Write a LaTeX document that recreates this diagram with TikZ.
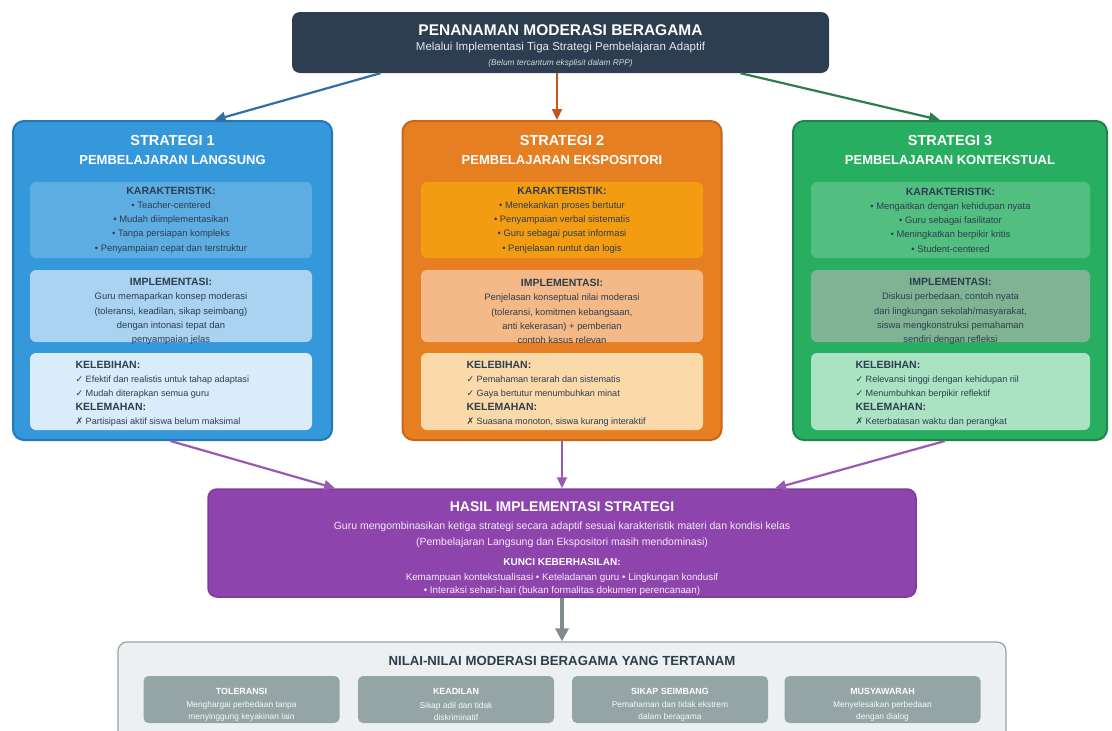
\documentclass[tikz,border=0pt]{standalone}
\usepackage{fontspec}
\setmainfont{Liberation Sans}
\newfontfamily\symfont{DejaVu Sans}
\usetikzlibrary{arrows.meta, positioning, calc}

\definecolor{navy}{HTML}{2C3E50}
\definecolor{blueA}{HTML}{3498DB}
\definecolor{blueB}{HTML}{2478B5}
\definecolor{blueK}{HTML}{5DADE2}
\definecolor{blueI}{HTML}{A9D3F0}
\definecolor{blueL}{HTML}{D9ECF9}
\definecolor{blueArr}{HTML}{346EA6}
\definecolor{orgA}{HTML}{E67E22}
\definecolor{orgB}{HTML}{C9661A}
\definecolor{orgK}{HTML}{F39C12}
\definecolor{orgI}{HTML}{F5B987}
\definecolor{orgL}{HTML}{FBD9A9}
\definecolor{orgArr}{HTML}{C0561A}
\definecolor{grnA}{HTML}{27AE60}
\definecolor{grnB}{HTML}{1E8449}
\definecolor{grnK}{HTML}{52BE80}
\definecolor{grnI}{HTML}{80B393}
\definecolor{grnL}{HTML}{AAE3C2}
\definecolor{grnArr}{HTML}{2E7D4F}
\definecolor{purA}{HTML}{8E44AD}
\definecolor{purB}{HTML}{7D3C98}
\definecolor{purArr}{HTML}{9B59B6}
\definecolor{greyA}{HTML}{95A5A6}
\definecolor{greyL}{HTML}{ECF0F1}
\definecolor{greyArr}{HTML}{7F8C8D}

\newcommand{\okmark}{{\symfont ✓}}
\newcommand{\nomark}{{\symfont ✗}}
\newcommand{\subhead}[1]{{\fontsize{10.5}{14.2}\selectfont\bfseries #1}}

\begin{document}
\begin{tikzpicture}[
  x=1pt, y=-1pt,
  stratbox/.style={draw, line width=2pt, rounded corners=11pt,
    minimum width=319pt, minimum height=319pt},
  subbox/.style={rounded corners=6pt, minimum width=282pt},
  strattitle/.style={text=white, font=\fontsize{14.5}{16}\selectfont\bfseries},
  stratname/.style={text=white, font=\fontsize{13}{15}\selectfont\bfseries},
  subtext/.style={text=navy, align=center, font=\fontsize{9.4}{14.2}\selectfont},
  proscons/.style={text=navy, align=left, anchor=west, font=\fontsize{9.1}{14}\selectfont},
  arr/.style={-{Triangle[length=11pt,width=10pt]}, line width=2.2pt},
  valbox/.style={fill=greyA, rounded corners=5pt, minimum width=196pt, minimum height=47pt},
]
  \useasboundingbox (0,0) rectangle (1112,731);
  \clip (0,0) rectangle (1112,731);
  \fill[white] (0,0) rectangle (1112,731);

  % Header
  \node[fill=navy, rounded corners=8pt, minimum width=537pt, minimum height=61pt] (head) at (560.5,42.5) {};
  \node[text=white, font=\fontsize{15.5}{17}\selectfont\bfseries] (headT) at (560.5,30) {PENANAMAN MODERASI BERAGAMA};
  \node[text=white!88!navy, font=\fontsize{11.5}{13}\selectfont] (headS) at (560.5,48) {Melalui Implementasi Tiga Strategi Pembelajaran Adaptif};
  \node[text=white!80!navy, font=\fontsize{8.3}{9}\selectfont\itshape] (headN) at (560.5,63) {(Belum tercantum eksplisit dalam RPP)};

  % Strategi 1
  \node[stratbox, fill=blueA, draw=blueB] (s1) at (172.5,280.5) {};
  \node[strattitle] (s1T) at (172.5,141) {STRATEGI 1};
  \node[stratname] (s1N) at (172.5,160) {PEMBELAJARAN LANGSUNG};
  \node[subbox, fill=blueK, minimum height=76pt] (s1K) at (171,220) {};
  \node[subtext] (s1Kt) at (s1K) {\subhead{KARAKTERISTIK:}\\
    • Teacher-centered\\ • Mudah diimplementasikan\\
    • Tanpa persiapan kompleks\\ • Penyampaian cepat dan terstruktur};
  \node[subbox, fill=blueI, minimum height=72pt] (s1I) at (171,306) {};
  \node[subtext] (s1It) at (171,311.5) {\subhead{IMPLEMENTASI:}\\
    Guru memaparkan konsep moderasi\\ (toleransi, keadilan, sikap seimbang)\\
    dengan intonasi tepat dan\\ penyampaian jelas};
  \node[subbox, fill=blueL, minimum height=77pt] (s1L) at (171,391.5) {};
  \node[proscons] (s1Lt) at (72,394) {\subhead{KELEBIHAN:}\\
    \okmark{} Efektif dan realistis untuk tahap adaptasi\\
    \okmark{} Mudah diterapkan semua guru\\
    \subhead{KELEMAHAN:}\\
    \nomark{} Partisipasi aktif siswa belum maksimal};

  % Strategi 2
  \node[stratbox, fill=orgA, draw=orgB] (s2) at (562,280.5) {};
  \node[strattitle] (s2T) at (562,141) {STRATEGI 2};
  \node[stratname] (s2N) at (562,160) {PEMBELAJARAN EKSPOSITORI};
  \node[subbox, fill=orgK, minimum height=76pt] (s2K) at (562,220) {};
  \node[subtext] (s2Kt) at (s2K) {\subhead{KARAKTERISTIK:}\\
    • Menekankan proses bertutur\\ • Penyampaian verbal sistematis\\
    • Guru sebagai pusat informasi\\ • Penjelasan runtut dan logis};
  \node[subbox, fill=orgI, minimum height=72pt] (s2I) at (562,306) {};
  \node[subtext] (s2It) at (562,311.5) {\subhead{IMPLEMENTASI:}\\
    Penjelasan konseptual nilai moderasi\\ (toleransi, komitmen kebangsaan,\\
    anti kekerasan) + pemberian\\ contoh kasus relevan};
  \node[subbox, fill=orgL, minimum height=77pt] (s2L) at (562,391.5) {};
  \node[proscons] (s2Lt) at (463,394) {\subhead{KELEBIHAN:}\\
    \okmark{} Pemahaman terarah dan sistematis\\
    \okmark{} Gaya bertutur menumbuhkan minat\\
    \subhead{KELEMAHAN:}\\
    \nomark{} Suasana monoton, siswa kurang interaktif};

  % Strategi 3
  \node[stratbox, fill=grnA, draw=grnB, minimum width=314pt] (s3) at (950,280.5) {};
  \node[strattitle] (s3T) at (950,141) {STRATEGI 3};
  \node[stratname] (s3N) at (950,160) {PEMBELAJARAN KONTEKSTUAL};
  \node[subbox, fill=grnK, minimum width=279pt, minimum height=76pt] (s3K) at (950.5,220) {};
  \node[subtext] (s3Kt) at (s3K) {\subhead{KARAKTERISTIK:}\\
    • Mengaitkan dengan kehidupan nyata\\ • Guru sebagai fasilitator\\
    • Meningkatkan berpikir kritis\\ • Student-centered};
  \node[subbox, fill=grnI, minimum width=279pt, minimum height=72pt] (s3I) at (950.5,306) {};
  \node[subtext] (s3It) at (950.5,311.5) {\subhead{IMPLEMENTASI:}\\
    Diskusi perbedaan, contoh nyata\\ dari lingkungan sekolah/masyarakat,\\
    siswa mengkonstruksi pemahaman\\ sendiri dengan refleksi};
  \node[subbox, fill=grnL, minimum width=279pt, minimum height=77pt] (s3L) at (950.5,391.5) {};
  \node[proscons] (s3Lt) at (852,394) {\subhead{KELEBIHAN:}\\
    \okmark{} Relevansi tinggi dengan kehidupan riil\\
    \okmark{} Menumbuhkan berpikir reflektif\\
    \subhead{KELEMAHAN:}\\
    \nomark{} Keterbatasan waktu dan perangkat};

  % Hasil implementasi
  \node[fill=purA, draw=purB, line width=1.5pt, rounded corners=9pt,
    minimum width=708pt, minimum height=108pt] (hasil) at (562,543) {};
  \node[text=white, font=\fontsize{14}{16}\selectfont\bfseries] (hasilT) at (562,507) {HASIL IMPLEMENTASI STRATEGI};
  \node[text=white!90!purA, align=center, font=\fontsize{10.5}{16}\selectfont] (hasilB) at (562,535)
    {Guru mengombinasikan ketiga strategi secara adaptif sesuai karakteristik materi dan kondisi kelas\\
     (Pembelajaran Langsung dan Ekspositori masih mendominasi)};
  \node[text=white, font=\fontsize{10}{11}\selectfont\bfseries] (kunci) at (562,562) {KUNCI KEBERHASILAN:};
  \node[text=white!90!purA, align=center, font=\fontsize{9.8}{13}\selectfont] (kunciB) at (562,584.5)
    {Kemampuan kontekstualisasi • Keteladanan guru • Lingkungan kondusif\\
     • Interaksi sehari-hari (bukan formalitas dokumen perencanaan)};

  % Nilai-nilai
  \node[fill=greyL, draw=greyA, line width=1.2pt, rounded corners=9pt,
    minimum width=888pt, minimum height=110pt] (nilai) at (562,697) {};
  \node[text=navy, font=\fontsize{13.2}{15}\selectfont\bfseries] (nilaiT) at (562,661) {NILAI-NILAI MODERASI BERAGAMA YANG TERTANAM};
  \foreach \x/\n/\t/\d in {
      241.5/tol/TOLERANSI/{Menghargai perbedaan tanpa\\menyinggung keyakinan lain},
      456/adil/KEADILAN/{Sikap adil dan tidak\\diskriminatif},
      670/imbang/SIKAP SEIMBANG/{Pemahaman dan tidak ekstrem\\dalam beragama},
      882.5/musy/MUSYAWARAH/{Menyelesaikan perbedaan\\dengan dialog}} {
    \node[valbox] (\n) at (\x,699.5) {};
    \node[text=white, font=\fontsize{8.9}{10}\selectfont\bfseries] (\n T) at (\x,691) {\t};
    \node[text=white!92!greyA, align=center, font=\fontsize{8.4}{12.5}\selectfont] (\n D) at (\x,711.5) {\d};
  }

  % Connections
  \draw[arr, blueArr] ([xshift=-180pt]head.south) -- ([xshift=42pt]s1.north);
  \draw[arr, orgArr] ([xshift=-3.5pt]head.south) -- ([xshift=-5pt]s2.north);
  \draw[arr, grnArr] ([xshift=180pt]head.south) -- ([xshift=-10pt]s3.north);
  \draw[arr, purArr] ([xshift=-2pt]s1.south) -- ([xshift=-227pt]hasil.north);
  \draw[arr, purArr] (s2.south) -- (hasil.north);
  \draw[arr, purArr] ([xshift=-5pt]s3.south) -- ([xshift=213pt]hasil.north);
  \draw[arr, greyArr, line width=3.2pt, -{Triangle[length=13pt,width=13pt]}] (hasil.south) -- (nilai.north);
\end{tikzpicture}
\end{document}
